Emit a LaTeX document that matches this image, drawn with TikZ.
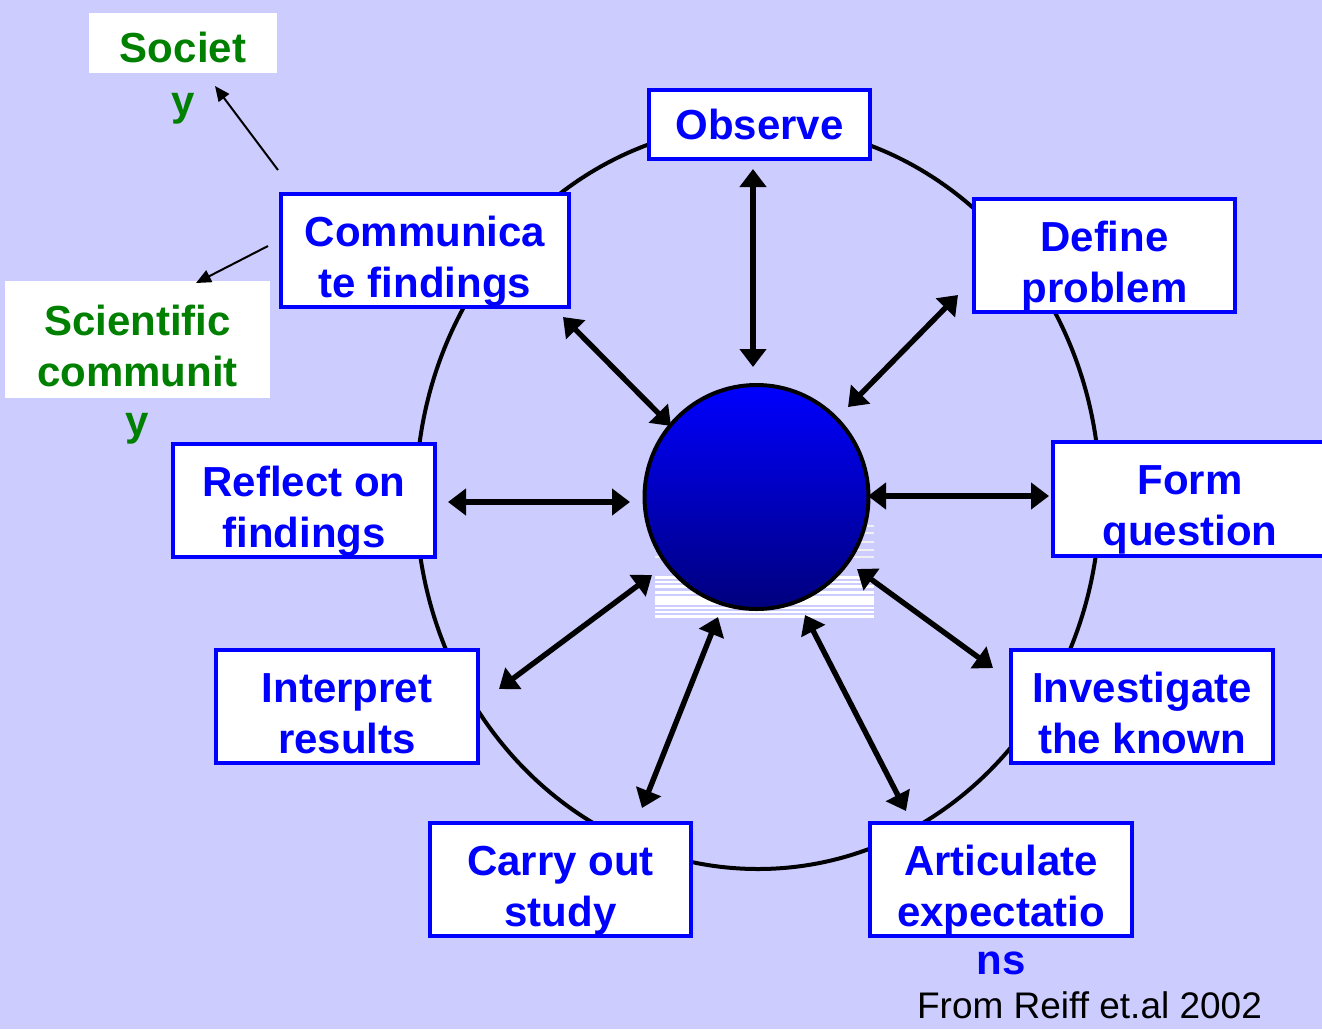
\documentclass[tikz,border=0pt]{standalone}
\usepackage{fontspec}
\setmainfont{Liberation Sans}
\usetikzlibrary{arrows.meta}
\definecolor{lavender}{RGB}{204,204,255}
\definecolor{darkgreen}{RGB}{0,128,0}
\definecolor{navyblue}{RGB}{0,0,125}
\newcommand{\stagetext}[2]{\rule{0pt}{26pt}#1\\#2\rule[-5pt]{0pt}{5pt}}

\begin{document}
\begin{tikzpicture}[%
        x=0.5pt, y=-0.5pt,
        stagebox/.style={draw=blue, line width=1.9pt, fill=white, text=blue,
            font=\bfseries\fontsize{21pt}{25.5pt}\selectfont, align=center,
            inner sep=0pt, minimum width=131pt, minimum height=55.5pt},
        groupbox/.style={fill=white, text=darkgreen, inner sep=0pt, align=center,
            font=\bfseries\fontsize{21pt}{25.5pt}\selectfont},
        spill/.style={inner sep=0pt, font=\bfseries\fontsize{21pt}{25.5pt}\selectfont},
        ringarrow/.style={line width=2.7pt,
            {Triangle[length=9pt,width=13pt]}-{Triangle[length=9pt,width=13pt]}},
        thinarrow/.style={line width=1pt, -{Triangle[length=7.5pt,width=6.5pt]}}
    ]
        \clip (0,0) rectangle (1322,1029);
        \fill [lavender] (0,0) rectangle (1322,1029);

        \draw [line width=2pt] (758,497) ellipse [x radius=171pt, y radius=186pt];

        \foreach \a in {525,532,541,549,556}
            \fill [white!88!gray] (655,\a) rectangle (874,\a+2);
        \foreach \a/\b in {576/579,581/583,585/588,591/594,596/605,607/609,611/613,615/618}
            \fill [white] (655,\a) rectangle (874,\b);

        \node [circle, draw, line width=2pt, minimum size=112pt, inner sep=0pt,
            top color=blue, middle color=blue!88!black, bottom color=navyblue]
            (ball) at (756.5,497) {};

        \node [stagebox, minimum width=110.5pt, minimum height=34.5pt] (obs) at (759.5,124.5) {Observe};
        \node [stagebox, minimum width=130.5pt] (def) at (1104.5,255.5) {\stagetext{Define}{problem}};
        \node [stagebox, minimum width=137pt, minimum height=57pt] (frm) at (1190,499) {\stagetext{Form}{question}};
        \node [stagebox] (inv) at (1142,706.5) {\stagetext{Investigate}{the known}};
        \node [stagebox, label={[spill, text=blue, label distance=7pt]below:ns}]
            (art) at (1001,879.5) {\stagetext{Articulate}{expectatio}};
        \node [stagebox, minimum width=130.5pt] (car) at (560.5,879.5) {\stagetext{Carry out}{study}};
        \node [stagebox] (int) at (347,706.5) {\stagetext{Interpret}{results}};
        \node [stagebox] (ref) at (304,500.5) {\stagetext{Reflect on}{findings}};
        \node [stagebox, minimum width=144pt] (com) at (425,250.5) {\stagetext{Communica}{te findings}};

        \node [groupbox, minimum width=94pt, minimum height=30pt, text height=20pt,
            label={[spill, text=darkgreen, label distance=10pt]below:y}] (soc) at (183,43) {Societ};
        \node [groupbox, minimum width=132.5pt, minimum height=58.5pt,
            label={[spill, text=darkgreen, label distance=7.5pt]below:y}]
            (sci) at (137.5,339.5) {\stagetext{Scientific}{communit}};

        \coordinate (obs1) at (753,367);  \coordinate (obs2) at (753,169);
        \coordinate (def1) at (848,407);  \coordinate (def2) at (958,295);
        \coordinate (frm1) at (868,496);  \coordinate (frm2) at (1049,496);
        \coordinate (inv1) at (857,569);  \coordinate (inv2) at (993,668);
        \coordinate (art1) at (805,615);  \coordinate (art2) at (906,811);
        \coordinate (car1) at (718,617);  \coordinate (car2) at (642,808);
        \coordinate (int1) at (652,575);  \coordinate (int2) at (499,689);
        \coordinate (ref1) at (630,502);  \coordinate (ref2) at (448,502);
        \coordinate (com1) at (671,426);  \coordinate (com2) at (563,317);

        \foreach \n in {obs,def,frm,inv,art,car,int,ref,com}
            \draw [ringarrow] (\n1) -- (\n2);

        \coordinate (socfrom) at (278,170);  \coordinate (socto) at (215,86);
        \coordinate (scifrom) at (268,246);  \coordinate (scito) at (196,283);
        \draw [thinarrow] (socfrom) -- (socto);
        \draw [thinarrow] (scifrom) -- (scito);

        \node [anchor=base, inner sep=0pt, font=\fontsize{18.5pt}{22pt}\selectfont]
            (src) at (1089.5,1018) {From Reiff et.al 2002};
    \end{tikzpicture}
\end{document}
